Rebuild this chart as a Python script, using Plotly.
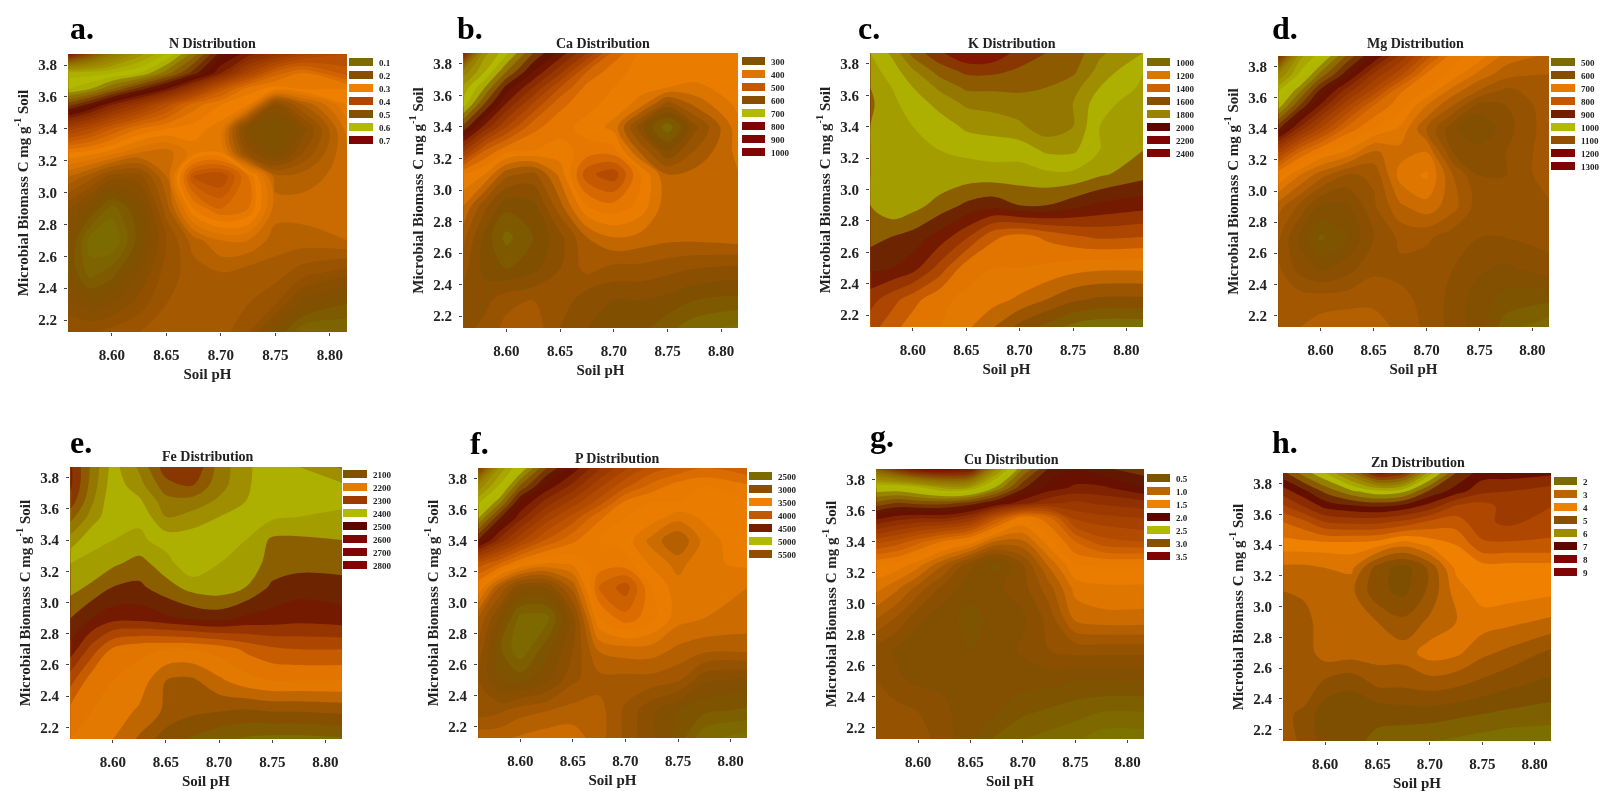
import plotly.graph_objects as go

# ---- shared grid (soil pH, microbial biomass C) ----
SOIL_PH = [8.56, 8.58, 8.60, 8.625, 8.65, 8.675, 8.70, 8.725, 8.75, 8.775, 8.816]
BIOMASS_TOP_DOWN = [3.87, 3.75, 3.65, 3.55, 3.4, 3.25, 3.1, 2.9, 2.7, 2.5, 2.3, 2.12]
PH_TICKS = [8.60, 8.65, 8.70, 8.75, 8.80]
BIOMASS_TICKS = [2.2, 2.4, 2.6, 2.8, 3.0, 3.2, 3.4, 3.6, 3.8]

# ---- surfaces, as position on the colour ramp (0-10), rows top to bottom ----
N_SURFACE = [
    [9.6,8.8,8.1,7.5,7.0,6.3,5.5,5.1,4.7,4.3,4.0],
    [7.1,7.1,7.0,6.8,6.3,5.7,5.0,4.2,3.5,3.2,3.7],
    [6.8,6.6,6.2,5.7,5.2,4.5,3.7,3.1,2.9,3.0,3.0],
    [5.9,5.5,5.0,4.5,3.9,3.3,3.0,2.8,1.4,2.0,2.8],
    [4.3,4.0,3.6,3.2,3.0,2.9,2.7,1.1,0.8,1.3,2.5],
    [3.0,2.9,2.7,2.4,2.3,2.7,2.8,1.5,1.0,1.6,2.4],
    [2.2,1.9,1.5,1.5,2.2,3.8,4.0,3.2,2.1,2.1,2.3],
    [1.4,1.0,0.5,1.0,1.9,3.0,3.4,3.2,2.3,2.3,2.4],
    [1.1,0.3,0.2,0.9,1.6,2.1,2.4,2.4,2.1,2.1,2.2],
    [1.0,0.5,0.7,1.2,1.7,1.9,2.0,1.9,1.9,1.7,1.5],
    [1.3,1.1,1.2,1.5,1.8,1.9,1.9,1.8,1.6,1.1,0.8],
    [1.6,1.6,1.7,1.8,1.9,1.9,1.9,1.6,1.0,0.4,0.4],
]
CA_SURFACE = [
    [9.5,7.6,7.0,6.0,5.3,4.5,3.5,3.0,3.0,3.0,3.0],
    [8.0,7.2,6.3,5.4,4.6,3.6,3.1,2.9,2.9,2.9,2.9],
    [7.4,6.6,5.6,4.8,3.9,3.2,3.0,2.8,2.7,2.6,2.9],
    [7.1,6.0,5.1,4.2,3.4,3.1,2.9,2.6,1.7,2.2,2.8],
    [5.9,5.0,4.2,3.4,3.1,2.9,2.6,1.3,0.4,1.4,2.6],
    [4.6,3.6,3.1,3.0,2.9,3.1,3.1,2.0,1.2,1.8,2.5],
    [3.0,2.7,1.9,1.7,2.5,3.8,4.1,3.0,2.1,2.2,2.4],
    [2.4,1.6,1.0,1.1,2.0,3.0,3.2,2.9,2.2,2.3,2.4],
    [1.9,1.1,0.5,0.9,1.4,2.1,2.4,2.3,2.2,2.2,2.3],
    [1.6,1.1,0.9,1.1,1.5,1.9,1.7,1.7,1.6,1.5,1.4],
    [1.4,1.4,1.7,1.8,1.7,1.3,1.2,1.2,1.1,0.9,0.8],
    [1.4,1.6,1.9,2.0,1.5,1.2,1.1,1.0,0.7,0.4,0.2],
]
K_SURFACE = [
    [7.0,7.6,8.7,9.4,10.0,9.9,9.3,9.0,8.8,8.1,7.5],
    [6.8,7.2,7.9,8.7,9.1,9.1,8.9,8.8,8.6,7.8,7.0],
    [6.5,7.0,7.5,8.1,8.6,8.6,8.6,8.5,8.2,7.5,6.9],
    [6.4,6.9,7.2,7.7,8.1,8.2,8.3,8.4,8.0,7.2,6.7],
    [6.5,6.8,7.0,7.2,7.6,7.7,7.9,8.3,8.0,7.0,6.6],
    [6.5,6.8,7.0,7.0,7.1,7.2,7.2,7.6,7.6,7.0,6.5],
    [6.5,6.8,7.0,6.9,6.8,6.8,6.8,6.9,6.9,6.6,6.2],
    [6.5,6.9,6.7,6.3,5.9,5.7,6.0,6.0,5.7,5.4,5.2],
    [6.2,6.0,5.8,5.3,4.6,3.6,3.3,3.6,3.9,4.1,4.0],
    [5.6,5.5,5.2,4.3,3.2,3.0,3.0,2.9,2.7,2.6,2.6],
    [4.7,4.2,3.7,3.1,2.9,2.7,2.4,2.0,1.6,1.4,1.4],
    [4.2,3.7,3.2,3.0,2.6,2.0,1.3,0.8,0.3,0.1,0.1],
]
MG_SURFACE = [
    [9.5,7.6,7.1,6.2,5.5,4.7,3.9,3.1,2.9,2.4,2.2],
    [8.0,7.2,6.4,5.6,4.7,4.1,3.2,2.9,2.4,2.1,2.0],
    [7.3,6.6,5.7,4.9,4.2,3.3,3.0,2.4,2.0,1.7,1.9],
    [6.9,6.0,5.2,4.3,3.5,3.1,2.5,2.0,1.4,1.5,1.9],
    [5.8,4.9,4.2,3.4,3.0,2.7,2.0,1.3,1.0,1.4,1.9],
    [4.3,3.5,3.0,2.7,2.2,2.4,2.5,1.5,1.4,1.5,1.9],
    [3.0,2.5,2.1,1.7,1.8,2.6,2.8,2.0,1.5,1.5,1.9],
    [2.1,1.7,1.2,1.2,1.7,2.2,2.4,2.1,1.6,1.6,1.7],
    [1.8,1.2,0.7,1.0,1.5,1.8,1.8,1.6,1.5,1.5,1.6],
    [1.8,1.4,1.2,1.4,1.7,1.7,1.6,1.5,1.3,1.2,1.4],
    [1.9,1.9,1.9,1.9,1.9,1.8,1.7,1.4,1.1,0.9,0.8],
    [2.0,2.0,2.1,2.2,2.2,1.9,1.7,1.4,1.1,0.6,0.3],
]
FE_SURFACE = [
    [9.6,8.4,7.3,8.1,9.3,9.5,8.3,7.6,7.2,7.5,8.1],
    [9.6,8.3,7.2,7.8,8.8,9.0,8.2,7.6,7.1,7.1,7.4],
    [9.3,8.1,7.1,7.4,8.3,8.3,7.9,7.5,7.2,7.1,7.2],
    [8.7,7.8,7.1,7.1,8.0,7.8,7.5,7.3,7.1,7.0,6.8],
    [7.8,7.1,7.0,6.9,7.2,7.2,7.1,7.0,6.4,6.4,6.5],
    [7.0,6.9,6.6,6.3,6.8,7.4,7.0,6.8,6.3,6.2,6.2],
    [6.7,6.4,6.0,5.9,6.3,6.7,6.8,6.5,5.9,5.7,5.8],
    [6.0,5.5,5.2,5.2,5.4,5.6,5.7,5.4,5.3,5.2,5.3],
    [5.3,4.3,3.4,3.1,3.0,3.0,3.2,3.6,3.9,4.0,4.0],
    [4.2,3.2,3.0,2.8,2.0,1.9,2.4,2.8,3.0,3.0,3.0],
    [3.3,3.0,2.8,2.4,1.9,1.6,1.5,1.4,1.5,1.5,1.6],
    [3.0,3.0,2.5,1.9,1.2,0.9,0.6,0.4,0.3,0.3,0.4],
]
P_SURFACE = [
    [9.3,7.7,7.0,6.0,5.4,4.8,4.3,3.9,3.7,3.5,3.7],
    [7.9,7.2,6.2,5.4,4.9,4.3,3.8,3.4,3.1,3.0,3.2],
    [7.3,6.6,5.5,4.9,4.4,3.9,3.2,3.0,3.0,3.0,3.0],
    [6.8,5.8,5.1,4.4,3.9,3.3,3.0,2.9,2.6,2.8,3.0],
    [5.7,4.9,4.3,3.7,3.3,3.0,2.9,2.4,2.0,2.6,3.0],
    [3.9,3.5,3.0,2.7,2.8,3.1,3.1,2.7,2.4,2.7,2.8],
    [3.0,2.0,1.3,1.3,2.1,3.5,3.9,3.0,2.6,2.6,2.5],
    [2.0,1.2,0.4,0.4,1.4,3.0,3.4,3.1,2.6,2.5,2.4],
    [1.7,0.8,0.3,0.9,1.5,2.3,2.4,2.4,2.2,2.1,2.1],
    [1.5,1.0,0.9,1.2,1.7,1.9,1.9,1.9,1.8,1.3,1.2],
    [1.6,1.7,1.9,2.0,2.1,2.1,1.7,1.3,1.0,0.8,0.7],
    [2.2,2.2,2.3,2.4,2.4,2.1,1.7,1.3,0.9,0.3,0.1],
]
CU_SURFACE = [
    [8.8,9.4,9.9,10.0,9.8,7.8,6.5,5.7,5.5,5.7,5.9],
    [7.0,7.0,7.2,7.6,7.5,6.7,5.8,5.4,5.2,5.2,5.5],
    [6.2,6.0,6.1,6.1,5.9,5.5,5.1,4.8,4.7,4.8,4.9],
    [5.3,5.1,5.0,5.0,4.7,3.8,3.0,3.4,4.3,4.4,4.5],
    [4.1,3.9,3.6,3.2,2.9,2.2,2.2,2.9,3.5,3.9,4.0],
    [3.0,2.9,2.6,2.0,1.3,0.9,1.5,2.3,3.0,3.0,3.0],
    [2.6,2.3,1.9,1.4,1.1,1.2,1.4,1.9,2.6,2.7,2.7],
    [2.0,1.7,1.3,1.1,0.9,1.1,1.2,1.6,2.3,2.4,2.4],
    [1.4,1.2,1.1,1.1,1.0,1.1,1.3,1.5,1.6,1.6,1.6],
    [1.5,1.3,1.2,1.2,1.1,1.1,1.1,1.1,1.0,1.0,1.0],
    [1.6,1.6,1.5,1.3,1.1,1.0,0.8,0.7,0.6,0.5,0.5],
    [1.5,1.6,1.6,1.4,1.0,0.7,0.5,0.4,0.3,0.1,0.1],
]
ZN_SURFACE = [
    [5.9,6.6,7.2,8.3,9.8,9.4,7.4,6.0,5.4,5.4,5.3],
    [5.0,5.5,6.1,6.7,7.1,6.9,5.9,5.4,4.9,4.8,4.6],
    [4.3,4.8,5.3,5.5,5.6,5.4,5.0,4.3,4.2,4.6,4.4],
    [3.6,3.9,4.4,4.5,4.5,4.3,3.9,3.8,4.3,4.5,4.2],
    [3.0,3.0,3.0,3.0,2.9,2.5,2.9,3.2,3.9,3.9,3.9],
    [2.3,2.3,2.4,2.5,1.4,1.0,1.7,2.9,3.0,3.0,3.0],
    [2.0,2.1,2.2,2.1,1.3,1.1,1.7,2.6,3.0,3.0,2.9],
    [1.8,1.8,2.3,2.3,2.0,1.7,2.1,2.4,2.6,2.5,2.3],
    [1.6,1.8,2.2,2.2,2.2,2.2,2.6,2.5,2.1,1.9,1.5],
    [1.6,1.9,1.5,1.3,1.7,1.7,1.8,1.7,1.5,1.3,1.1],
    [1.7,1.5,0.9,0.9,0.9,1.0,1.0,0.9,0.8,0.7,0.6],
    [1.8,1.5,1.0,0.9,0.7,0.5,0.4,0.3,0.2,0.1,0.1],
]

# ---- legend labels and the ramp position of each swatch ----
N_LABELS = ["0.1","0.2","0.3","0.4","0.5","0.6","0.7"]
CA_LABELS = ["300","400","500","600","700","800","900","1000"]
K_LABELS = ["1000","1200","1400","1600","1800","2000","2200","2400"]
MG_LABELS = ["500","600","700","800","900","1000","1100","1200","1300"]
FE_LABELS = ["2100","2200","2300","2400","2500","2600","2700","2800"]
P_LABELS = ["2500","3000","3500","4000","4500","5000","5500"]
CU_LABELS = ["0.5","1.0","1.5","2.0","2.5","3.0","3.5"]
ZN_LABELS = ["2","3","4","5","6","7","8","9"]

N_SWATCH = [0.3,1.3,3.0,4.2,0.9,7.0,10]
CA_SWATCH = [0.9,2.6,3.8,1.3,7.0,10,10,10]
K_SWATCH = [0.3,2.6,3.6,1.3,8.0,5.5,10,10]
MG_SWATCH = [0.3,1.2,2.8,3.8,5.2,7.0,1.6,10,10]
FE_SWATCH = [0.9,2.8,4.6,7.0,5.5,10,10,10]
P_SWATCH = [0.3,1.4,3.0,3.8,5.2,7.0,1.5]
CU_SWATCH = [0.9,2.2,3.0,5.5,7.0,1.4,10]
ZN_SWATCH = [0.3,2.2,3.0,1.4,7.8,5.5,10,10]

PANEL_NAMES = ["N","Ca","K","Mg","Fe","P","Cu","Zn"]
PANEL_LETTERS = ["a.","b.","c.","d.","e.","f.","g.","h."]
SURFACES = [N_SURFACE,CA_SURFACE,K_SURFACE,MG_SURFACE,FE_SURFACE,P_SURFACE,CU_SURFACE,ZN_SURFACE]
LABELS = [N_LABELS,CA_LABELS,K_LABELS,MG_LABELS,FE_LABELS,P_LABELS,CU_LABELS,ZN_LABELS]
SWATCHES = [N_SWATCH,CA_SWATCH,K_SWATCH,MG_SWATCH,FE_SWATCH,P_SWATCH,CU_SWATCH,ZN_SWATCH]
RAMP_STEP = [0.2,0.3,0.5,0.25,0.5,0.25,0.25,0.4]

# value at ramp ends 0 and 10, per panel
VALUE_SPAN = [(0.1,0.72),(280,1020),(980,2420),(480,1320),(2080,2820),(2450,5550),(0.45,3.55),(1.8,9.2)]

RAMP = [
    (0.0,"#7a7600"),(0.05,"#7e6400"),(0.1,"#7f4f00"),(0.15,"#8e4f00"),(0.2,"#a85a00"),(0.25,"#d87200"),(0.3,"#f08000"),
    (0.4,"#b84e00"),(0.5,"#8a2c00"),(0.55,"#5c0800"),(0.62,"#8a5a00"),(0.66,"#948000"),(0.69,"#b2ba00"),(0.71,"#b2ba00"),
    (0.77,"#a09000"),(0.85,"#8f6c00"),(0.9,"#8a4800"),(1.0,"#800404"),
]

# ---- pixel layout ----
W, H = 1600, 791
PLOTS = [(68,347,54,332),(463,738,53,328),(870,1143,53,327),(1278,1549,56,327),
         (70,342,467,739),(478,747,468,738),(876,1144,469,739),(1283,1551,473,741)]
LEG_X = [(349,373),(742,765),(1147,1170),(1551,1575),(343,367),(749,772),(1147,1170),(1554,1577)]
LEG_TOP = [56,55,56,56,468,470,472,475]
LEG_PITCH = 13
TITLE_POS = [(212,44),(603,43),(1012,43),(1415,44),(208,456),(617,458),(1011,459),(1418,463)]
LETTER_POS = [(68,39),(455,39),(856,39),(1270,39),(68,453),(468,454),(868,447),(1270,453)]

SERIF = "Liberation Serif"
INK = "#222222"
fig = go.Figure()
layout = {}
ann = []

def fx(px): return px / W
def fy(px): return 1 - px / H

for i in range(8):
    lo, hi = VALUE_SPAN[i]
    k = (hi - lo) / 10
    z = [[lo + c * k for c in row] for row in reversed(SURFACES[i])]
    sfx = "" if i == 0 else str(i + 1)
    fig.add_trace(go.Contour(
        x=SOIL_PH, y=list(reversed(BIOMASS_TOP_DOWN)), z=z,
        colorscale=RAMP, zmin=lo, zmax=hi, showscale=False,
        contours=dict(start=lo, end=hi, size=RAMP_STEP[i] * k, coloring="fill", showlines=False),
        line=dict(width=0, smoothing=1),
        xaxis="x" + sfx, yaxis="y" + sfx, name=PANEL_NAMES[i],
    ))
    x0, x1, y0, y1 = PLOTS[i]
    layout["xaxis" + sfx] = dict(
        domain=[fx(x0), fx(x1)], anchor="y" + sfx, range=[8.5597, 8.8156],
        tickmode="array", tickvals=PH_TICKS, tickformat=".2f", ticks="outside", ticklen=3, tickcolor="#444",
        ticklabelstandoff=6, showgrid=False, zeroline=False, showline=False,
        tickfont=dict(family=SERIF, size=15, color=INK, weight="bold"),
        title=dict(text="Soil pH", standoff=6, font=dict(family=SERIF, size=15, color=INK, weight="bold")),
    )
    layout["yaxis" + sfx] = dict(
        domain=[fy(y1), fy(y0)], anchor="x" + sfx, range=[2.125, 3.869],
        tickmode="array", tickvals=BIOMASS_TICKS, tickformat=".1f", ticks="outside", ticklen=3, tickcolor="#444",
        ticklabelstandoff=4, showgrid=False, zeroline=False, showline=False,
        tickfont=dict(family=SERIF, size=15, color=INK, weight="bold"),
        title=dict(text="Microbial Biomass C mg g<sup>-1</sup> Soil", standoff=6,
                   font=dict(family=SERIF, size=15, color=INK, weight="bold")),
    )
    # discrete legend drawn as a small heatmap
    sx = str(i + 9)
    n = len(LABELS[i])
    fig.add_trace(go.Heatmap(
        x=["swatch"], y=LABELS[i], z=[[c] for c in SWATCHES[i]],
        colorscale=RAMP, zmin=0, zmax=10, showscale=False, ygap=5,
        xaxis="x" + sx, yaxis="y" + sx, name=PANEL_NAMES[i] + " legend",
    ))
    lx0, lx1 = LEG_X[i]
    ltop = LEG_TOP[i]
    layout["xaxis" + sx] = dict(domain=[fx(lx0), fx(lx1)], anchor="y" + sx, visible=False)
    layout["yaxis" + sx] = dict(
        domain=[fy(ltop + n * LEG_PITCH), fy(ltop)], anchor="x" + sx, side="right", type="category",
        autorange="reversed", showgrid=False, zeroline=False, showline=False, ticks="", ticklabelstandoff=5,
        tickfont=dict(family=SERIF, size=9, color=INK, weight="bold"),
    )
    ann.append(dict(text="<b>%s Distribution</b>" % PANEL_NAMES[i], x=fx(TITLE_POS[i][0]), y=fy(TITLE_POS[i][1]),
                    xref="paper", yref="paper", xanchor="center", yanchor="middle", showarrow=False,
                    font=dict(family=SERIF, size=14, color=INK)))
    ann.append(dict(text="<b>%s</b>" % PANEL_LETTERS[i], x=fx(LETTER_POS[i][0]), y=fy(LETTER_POS[i][1] + 9),
                    xref="paper", yref="paper", xanchor="left", yanchor="bottom", showarrow=False,
                    font=dict(family=SERIF, size=32, color="#000000")))

fig.update_layout(width=W, height=H, margin=dict(l=0, r=0, t=0, b=0), autosize=False,
                  paper_bgcolor="#ffffff", plot_bgcolor="#ffffff", annotations=ann, showlegend=False, **layout)
fig.write_html("out.html", config={"displayModeBar": False},
               post_script="document.body.style.margin='0';document.querySelector('.plotly-graph-div').style.filter='blur(0.5px)';")
